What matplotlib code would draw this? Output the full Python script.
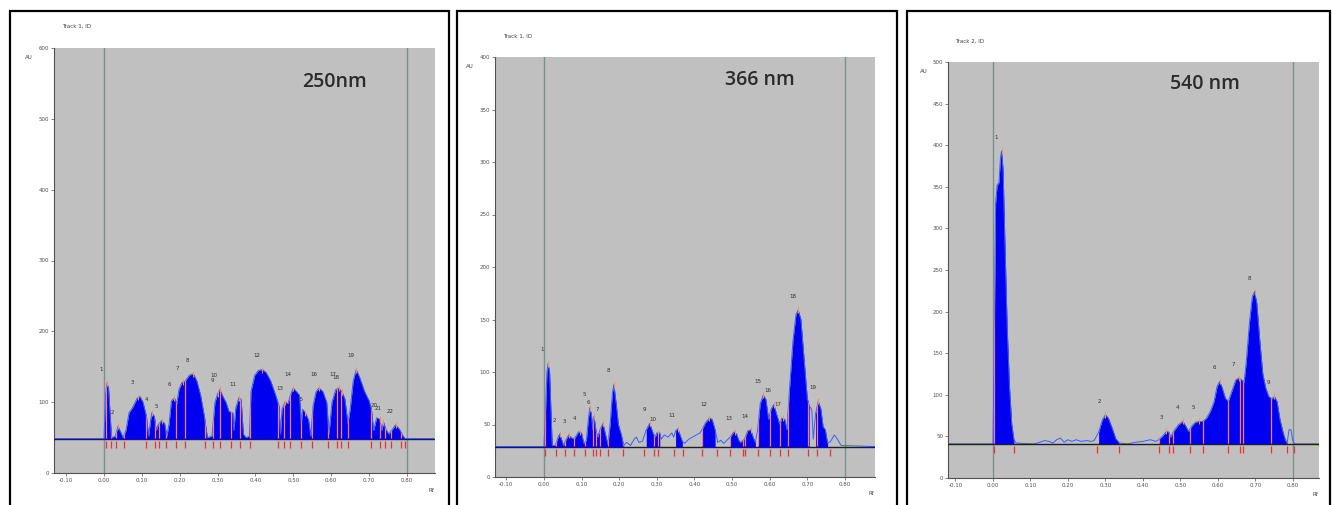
import matplotlib.pyplot as plt
import numpy as np
from matplotlib.patches import Rectangle
from matplotlib.path import Path

W, H = 1332, 505

# ---------------- 250 nm densitogram (Rf, AU)
rf_250 = [-0.13, 0.000, 0.004, 0.008, 0.012, 0.017, 0.020, 0.030, 0.037, 0.044, 0.050,
          0.058, 0.066, 0.075, 0.088, 0.095, 0.103, 0.112, 0.118, 0.122, 0.126, 0.133,
          0.138, 0.143, 0.152, 0.160, 0.166, 0.172, 0.178, 0.186, 0.192, 0.198, 0.206,
          0.215, 0.225, 0.236, 0.245, 0.255, 0.265, 0.273, 0.285, 0.293, 0.300, 0.306,
          0.314, 0.322, 0.330, 0.340, 0.343, 0.348, 0.356, 0.362, 0.368, 0.375, 0.384,
          0.388, 0.398, 0.408, 0.418, 0.428, 0.440, 0.452, 0.462, 0.466, 0.470, 0.478,
          0.486, 0.492, 0.500, 0.508, 0.516, 0.521, 0.524, 0.532, 0.540, 0.546, 0.552,
          0.560, 0.568, 0.578, 0.588, 0.594, 0.602, 0.612, 0.620, 0.628, 0.636, 0.644,
          0.650, 0.658, 0.666, 0.675, 0.688, 0.700, 0.706, 0.712, 0.720, 0.728, 0.734,
          0.738, 0.744, 0.752, 0.762, 0.770, 0.780, 0.790, 0.795, 0.87]
au_250 = [48.5, 48.5, 110, 127, 120, 75, 50, 52, 66, 58, 50,
          60, 85, 92, 106, 108, 100, 80, 52, 70, 85, 80,
          60, 68, 74, 70, 52, 70, 102, 106, 98, 118, 128,
          130, 138, 140, 130, 110, 80, 50, 52, 100, 112, 118,
          108, 100, 87, 85, 60, 92, 106, 104, 55, 50, 52,
          115, 138, 145, 146, 142, 130, 112, 95, 55, 90, 100,
          98, 110, 120, 115, 110, 70, 90, 85, 75, 52, 95,
          115, 120, 115, 100, 55, 100, 118, 120, 115, 105, 70,
          90, 130, 146, 135, 115, 102, 90, 60, 78, 76, 60,
          72, 62, 55, 62, 68, 62, 52, 48.5, 48.5]
base_250 = 48.5
fill_250 = [(0.0, 0.80)]
peak_rf_250 = [0.008, 0.037, 0.090, 0.126, 0.152, 0.186, 0.209, 0.236, 0.300, 0.306, 0.356,
               0.418, 0.478, 0.500, 0.532, 0.568, 0.620, 0.628, 0.666, 0.728, 0.738, 0.770]
peak_au_250 = [127, 66, 108, 85, 74, 106, 128, 140, 112, 118, 106,
               146, 100, 120, 85, 120, 120, 115, 146, 76, 72, 68]
bounds_250 = [0.006, 0.019, 0.031, 0.052, 0.112, 0.134, 0.145, 0.165, 0.191, 0.213, 0.266,
              0.288, 0.305, 0.336, 0.358, 0.385, 0.460, 0.474, 0.490, 0.521, 0.548, 0.592,
              0.614, 0.627, 0.644, 0.706, 0.728, 0.741, 0.759, 0.785, 0.794]

# ---------------- 366 nm densitogram
rf_366 = [-0.13, 0.000, 0.004, 0.008, 0.011, 0.015, 0.019, 0.022, 0.030, 0.038, 0.042,
          0.047, 0.052, 0.058, 0.066, 0.074, 0.082, 0.092, 0.100, 0.106, 0.113, 0.118,
          0.122, 0.126, 0.130, 0.133, 0.138, 0.143, 0.150, 0.157, 0.164, 0.170, 0.176,
          0.182, 0.186, 0.192, 0.198, 0.206, 0.212, 0.220, 0.230, 0.240, 0.246, 0.252,
          0.262, 0.272, 0.281, 0.290, 0.296, 0.300, 0.308, 0.312, 0.320, 0.330, 0.340,
          0.345, 0.350, 0.356, 0.362, 0.368, 0.374, 0.385, 0.400, 0.415, 0.420, 0.430,
          0.440, 0.447, 0.455, 0.462, 0.470, 0.478, 0.495, 0.505, 0.512, 0.518, 0.522,
          0.533, 0.542, 0.550, 0.556, 0.562, 0.568, 0.575, 0.583, 0.590, 0.597, 0.604,
          0.611, 0.620, 0.627, 0.632, 0.640, 0.646, 0.652, 0.662, 0.670, 0.676, 0.683,
          0.692, 0.700, 0.705, 0.712, 0.716, 0.722, 0.729, 0.736, 0.742, 0.748, 0.754,
          0.762, 0.772, 0.780, 0.790, 0.88]
au_366 = [29, 29, 60, 100, 108, 100, 60, 30, 30, 38, 41,
          36, 30, 35, 40, 37, 37, 43, 42, 32, 35, 55,
          66, 60, 45, 58, 45, 38, 46, 51, 40, 31, 50,
          80, 88, 70, 50, 40, 30, 33, 30, 36, 38, 33,
          34, 45, 51, 42, 38, 42, 42, 36, 40, 38, 42,
          38, 44, 46, 40, 34, 32, 36, 39, 42, 45, 52,
          56, 55, 45, 33, 35, 32, 38, 43, 41, 35, 33,
          36, 44, 45, 38, 33, 45, 70, 78, 74, 55, 65,
          69, 58, 50, 56, 55, 45, 80, 130, 155, 159, 150,
          110, 75, 68, 64, 36, 60, 72, 65, 48, 45, 32,
          34, 40, 36, 30, 29]
base_366 = 29
fill_366 = [(0.0, 0.212), (0.266, 0.308), (0.346, 0.370), (0.419, 0.459),
            (0.494, 0.562), (0.565, 0.705), (0.718, 0.760)]
peak_rf_366 = [0.011, 0.042, 0.068, 0.095, 0.122, 0.133, 0.157, 0.186, 0.281, 0.304,
               0.356, 0.440, 0.507, 0.550, 0.583, 0.611, 0.636, 0.676, 0.729]
peak_au_366 = [108, 41, 40, 43, 66, 58, 51, 88, 51, 42,
               46, 56, 43, 45, 78, 69, 56, 159, 72]
bounds_366 = [0.002, 0.033, 0.055, 0.079, 0.108, 0.130, 0.139, 0.148, 0.170, 0.210,
              0.266, 0.292, 0.303, 0.346, 0.370, 0.419, 0.459, 0.494, 0.528, 0.534,
              0.569, 0.600, 0.627, 0.649, 0.702, 0.725, 0.760]

# ---------------- 540 nm densitogram
rf_540 = [-0.13, 0.000, 0.003, 0.007, 0.011, 0.016, 0.020, 0.023, 0.027, 0.032, 0.038,
          0.044, 0.050, 0.056, 0.062, 0.110, 0.125, 0.138, 0.150, 0.160, 0.170, 0.180,
          0.190, 0.200, 0.210, 0.222, 0.235, 0.250, 0.262, 0.270, 0.282, 0.292, 0.300,
          0.308, 0.318, 0.328, 0.338, 0.360, 0.380, 0.400, 0.420, 0.435, 0.442, 0.452,
          0.463, 0.470, 0.474, 0.482, 0.495, 0.507, 0.515, 0.522, 0.530, 0.540, 0.550,
          0.560, 0.570, 0.580, 0.590, 0.598, 0.605, 0.612, 0.620, 0.628, 0.638, 0.648,
          0.656, 0.664, 0.670, 0.676, 0.684, 0.692, 0.698, 0.704, 0.712, 0.720, 0.728,
          0.736, 0.744, 0.751, 0.758, 0.766, 0.774, 0.780, 0.785, 0.790, 0.795, 0.800,
          0.805, 0.87]
au_540 = [41, 41, 150, 330, 352, 355, 385, 393, 370, 280, 180,
          110, 65, 46, 42, 41, 43, 45, 44, 42, 46, 48,
          43, 46, 44, 46, 44, 45, 44, 45, 55, 70, 76,
          72, 60, 47, 42, 41, 43, 44, 46, 44, 46, 50,
          56, 55, 49, 56, 64, 68, 62, 56, 62, 67, 68,
          68, 72, 80, 92, 110, 116, 108, 96, 92, 105, 118,
          120, 118, 115, 140, 185, 218, 224, 210, 165, 125, 108,
          98, 95, 98, 92, 70, 55, 46, 42, 58, 58, 45,
          41, 41]
base_540 = 41
fill_540 = [(0.0, 0.058), (0.277, 0.338), (0.442, 0.785)]
peak_rf_540 = [0.023, 0.300, 0.463, 0.507, 0.550, 0.605, 0.656, 0.698, 0.751]
peak_au_540 = [393, 76, 56, 68, 68, 116, 120, 224, 98]
bounds_540 = [0.003, 0.057, 0.278, 0.337, 0.443, 0.469, 0.481, 0.527, 0.561, 0.627,
              0.658, 0.667, 0.741, 0.785, 0.802]

panels = [
    dict(rf=rf_250, au=au_250, base=base_250, fills=fill_250, prf=peak_rf_250,
         pau=peak_au_250, bounds=bounds_250, ymax=600, ystep=100, track="Track 1, ID",
         nm="250nm", box=(10, 449), ax=(54, 435, 48, 473), xlim=(-0.132, 0.874),
         nmpos=(0.737, 0.92)),
    dict(rf=rf_366, au=au_366, base=base_366, fills=fill_366, prf=peak_rf_366,
         pau=peak_au_366, bounds=bounds_366, ymax=400, ystep=50, track="Track 1, ID",
         nm="366 nm", box=(457, 897), ax=(495, 875, 57, 477), xlim=(-0.13, 0.88),
         nmpos=(0.697, 0.945)),
    dict(rf=rf_540, au=au_540, base=base_540, fills=fill_540, prf=peak_rf_540,
         pau=peak_au_540, bounds=bounds_540, ymax=500, ystep=50, track="Track 2, ID",
         nm="540 nm", box=(907, 1330), ax=(948, 1319, 62, 478), xlim=(-0.12, 0.87),
         nmpos=(0.693, 0.947)),
]

fig = plt.figure(figsize=(W / 100, H / 100), dpi=100)
fig.patch.set_facecolor('white')

for p in panels:
    bx0, bx1 = p['box']
    fig.patches.append(Rectangle((bx0 / W, -0.02), (bx1 - bx0) / W, 1.02 - 11 / H,
                                 transform=fig.transFigure, fill=False,
                                 edgecolor='black', linewidth=1.6))
    l, r, t, b = p['ax']
    ax = fig.add_axes([l / W, 1 - b / H, (r - l) / W, (b - t) / H])
    ax.set_facecolor('#c0c0c0')
    ax.set_xlim(*p['xlim'])
    ax.set_ylim(0, p['ymax'])
    for s in ('top', 'right'):
        ax.spines[s].set_visible(False)
    for s in ('left', 'bottom'):
        ax.spines[s].set_color('#505050')
        ax.spines[s].set_linewidth(0.8)

    xt = np.round(np.arange(-0.1, 0.81, 0.1), 2)
    ax.set_xticks(xt)
    ax.set_xticklabels(['%.2f' % v for v in xt])
    ax.set_yticks(np.arange(0, p['ymax'] + 1, p['ystep']))
    ax.tick_params(direction='out', length=2, width=0.5, labelsize=4,
                   labelcolor='#505050', color='#505050', pad=1.5)

    # application front/start lines
    ax.axvline(0.0, color='#7d918c', lw=1.0, zorder=1)
    ax.axvline(0.8, color='#7d918c', lw=1.0, zorder=1)

    x = np.array(p['rf'])
    y = np.array(p['au'])
    paths = []
    for a, c in p['fills']:
        m = (x >= a) & (x <= c)
        poly = ax.fill_between(x[m], p['base'], y[m], color='#0000f0', lw=0, zorder=2)
        paths.extend(poly.get_paths())
    ax.plot(x, y, color='#3a5cff', lw=0.7, zorder=3)

    # peak boundaries inside the filled area
    clip = Path.make_compound_path(*paths)
    vl = ax.vlines(p['bounds'], p['base'], p['ymax'], color='#ff7a7a', lw=0.9, zorder=4)
    vl.set_clip_path(clip, ax.transData)
    # boundary ticks below baseline
    dy = p['ymax'] * 0.022
    ax.vlines(p['bounds'], p['base'] - dy, p['base'] - 0.25 * dy, color='#ee3030',
              lw=0.9, zorder=4)
    ax.axhline(p['base'], color='#202020', lw=1.0, zorder=5)

    # peak maxima and numbers
    ax.plot(p['prf'], p['pau'], ls='none', marker='|', ms=4, mew=0.7,
            color='#ff8a60', zorder=5)
    for i, (pr, pa) in enumerate(zip(p['prf'], p['pau'])):
        ax.annotate(str(i + 1), (pr, pa), xytext=(-4, 8), textcoords='offset points',
                    fontsize=4, color='#303030', ha='center', va='bottom', zorder=6)

    ax.text(0.02, 1.05, p['track'], transform=ax.transAxes, fontsize=4,
            color='#404040', ha='left', va='center')
    ax.text(-0.065, 0.977, 'AU', transform=ax.transAxes, fontsize=4,
            color='#404040', ha='center', va='center')
    ax.text(0.99, -0.04, 'Rf', transform=ax.transAxes, fontsize=4,
            color='#404040', ha='center', va='center')
    ax.text(p['nmpos'][0], p['nmpos'][1], p['nm'], transform=ax.transAxes,
            fontsize=14, family=['Open Sans', 'DejaVu Sans'], weight='semibold',
            color='#2b2b2b', ha='center', va='center')

fig.savefig('out.png', dpi=100)
